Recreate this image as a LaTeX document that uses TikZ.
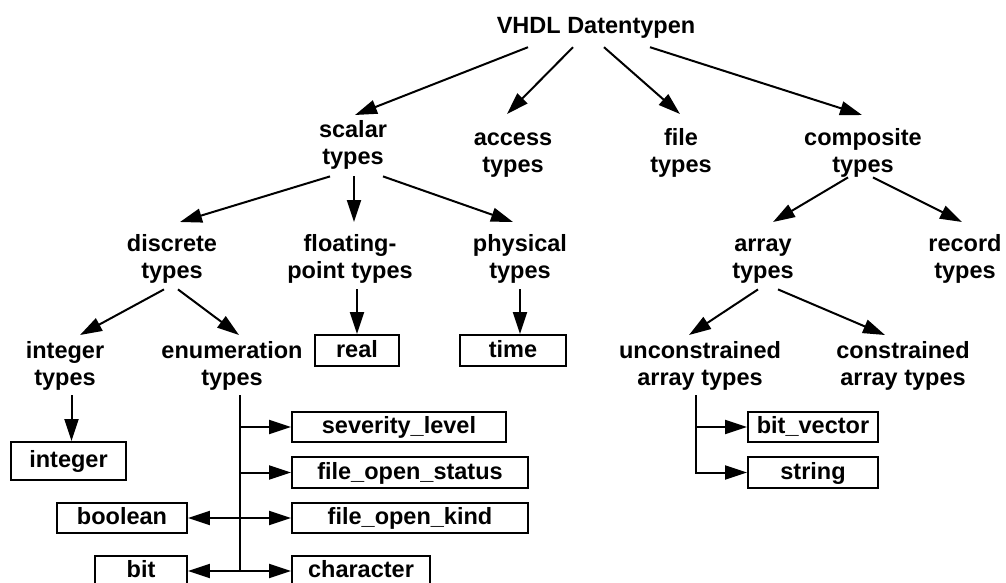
\documentclass[tikz,border=0pt]{standalone}
\usepackage{fontspec}
\setmainfont{Liberation Sans}
\usetikzlibrary{arrows.meta}
\newcommand\myup[1]{\rule{0pt}{#1pt}}
\newcommand\mydn[1]{\rule[-#1pt]{0pt}{#1pt}}
\begin{document}
\begin{tikzpicture}[x=1pt,y=-1pt,
  every node/.style={font=\fontsize{23.5}{27}\selectfont\bfseries},
  lbl/.style={align=center, anchor=north, inner sep=0pt},
  bx/.style={draw, line width=1.9pt, minimum height=30pt, inner sep=0pt, text height=18pt, text depth=5pt},
  arr/.style={-{Triangle[length=22pt,width=14pt]}, line width=2pt},
  ln/.style={line width=2pt}]
\useasboundingbox (0,0) rectangle (1006,582);
% labels
\node[anchor=base, inner sep=0pt] (title) at (596,33) {VHDL Datentypen\mydn{14}};
\node[lbl] (scalar) at (353,115) {\myup{22}scalar\\types\mydn{12}};
\node[lbl] (access) at (513,114) {\myup{31}access\\types\mydn{8}};
\node[lbl] (file) at (681,114) {\myup{31}file\\types\mydn{8}};
\node[lbl] (comp) at (863,115) {\myup{30}composite\\types\mydn{5}};
\node[lbl] (disc) at (172,222) {\myup{29}discrete\\types\mydn{11}};
\node[lbl] (fp) at (350,222) {\myup{29}floating-\\point types\mydn{11}};
\node[lbl] (phys) at (520,222) {\myup{29}physical\\types\mydn{11}};
\node[lbl] (arr) at (763,222) {\myup{29}array\\types\mydn{11}};
\node[lbl] (rec) at (965,222) {\myup{29}record\\types\mydn{11}};
\node[lbl] (intt) at (65,335) {\myup{23}integer\\types\mydn{10}};
\node[lbl] (enum) at (232,335) {\myup{23}enumeration\\types\mydn{10}};
\node[lbl] (unc) at (700,335) {\myup{23}unconstrained\\array types\mydn{10}};
\node[lbl] (con) at (903,335) {\myup{23}constrained\\array types\mydn{10}};
% boxes
\node[bx, minimum width=84pt, minimum height=31pt] (real) at (357,350.5) {real};
\node[bx, minimum width=106pt, minimum height=31pt] (time) at (513,350.5) {time};
\node[bx, minimum width=115pt, minimum height=38pt] (intb) at (68.5,461) {integer};
\node[bx, minimum width=214pt] (sev) at (399,427) {severity\_level};
\node[bx, minimum width=236pt, minimum height=31pt] (fos) at (410,472.5) {file\_open\_status};
\node[bx, minimum width=236pt] (fok) at (410,518) {file\_open\_kind};
\node[bx, minimum width=138pt] (chr) at (361,571) {character};
\node[bx, minimum width=130pt] (bool) at (122,518) {boolean};
\node[bx, minimum width=92pt] (bit) at (141,571) {bit};
\node[bx, minimum width=130pt] (bv) at (813,427) {bit\_vector};
\node[bx, minimum width=130pt, minimum height=31pt] (str) at (813,472.5) {string};
\coordinate (et) at (240,0);
\coordinate (ut) at (696,0);
% connectors
\draw[arr] ([xshift=-68pt]title.south) -- ([xshift=2pt]scalar.north);
\draw[arr] ([xshift=-23pt]title.south) -- ([xshift=-6pt]access.north);
\draw[arr] ([xshift=8pt]title.south) -- ([xshift=-1pt]file.north);
\draw[arr] ([xshift=54pt]title.south) -- ([xshift=-1pt]comp.north);
\draw[arr] ([xshift=-23pt]scalar.south) -- ([xshift=8pt]disc.north);
\draw[arr] ([xshift=1pt]scalar.south) -- ([xshift=4pt]fp.north);
\draw[arr] ([xshift=30pt]scalar.south) -- ([xshift=-7pt]phys.north);
\draw[arr] ([xshift=-8pt]disc.south) -- ([xshift=15pt]intt.north);
\draw[arr] ([xshift=6pt]disc.south) -- ([xshift=7pt]enum.north);
\draw[arr] (fp.south -| real.north) -- (real.north);
\draw[arr] (phys.south) -- (phys.south |- time.north);
\draw[arr] ([xshift=3pt]intb.north |- intt.south) -- ([xshift=3pt]intb.north);
\draw[arr] ([xshift=-15pt]comp.south) -- ([xshift=10pt]arr.north);
\draw[arr] ([xshift=10pt]comp.south) -- ([xshift=-3pt]rec.north);
\draw[arr] ([xshift=-5pt]arr.south) -- ([xshift=-11pt]unc.north);
\draw[arr] ([xshift=15pt]arr.south) -- ([xshift=-18pt]con.north);
% enumeration trunk
\draw[ln] (et |- enum.south) -- (et |- chr.west);
\draw[arr] (et |- sev.west) -- (sev.west);
\draw[arr] (et |- fos.west) -- (fos.west);
\draw[arr] (et |- fok.west) -- (fok.west);
\draw[arr] (et |- chr.west) -- (chr.west);
\draw[arr] (et |- bool.east) -- (bool.east);
\draw[arr] (et |- bit.east) -- (bit.east);
% unconstrained trunk
\draw[arr] (ut |- unc.south) |- (str.west);
\draw[arr] (ut |- bv.west) -- (bv.west);
\end{tikzpicture}
\end{document}
